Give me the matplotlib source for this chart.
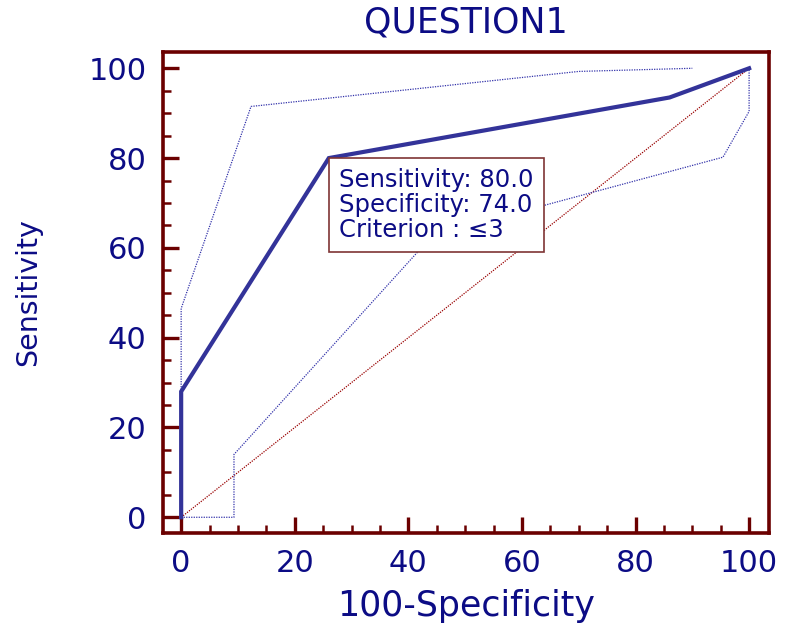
import matplotlib
matplotlib.use("Agg")
import matplotlib.pyplot as plt
from matplotlib.ticker import MultipleLocator

# ROC curve points (100-Specificity, Sensitivity)
roc_x = [0, 0, 26, 86, 100]
roc_y = [0, 28, 80, 93.5, 100]

# confidence bounds (dotted)
upper_x = [0, 0, 12.3, 70, 90]
upper_y = [0, 46.5, 91.5, 99.3, 100]
lower_x = [0, 9.3, 9.3, 44.3, 64.6, 95.4, 100, 100]
lower_y = [0, 0, 14, 62.8, 69.7, 80.2, 90.4, 100]

# reference diagonal
diag = [0, 100]

title = "QUESTION1"
box_lines = ["Sensitivity: 80.0", "Specificity: 74.0", "Criterion : \u22643"]
box_point = (26, 80)

navy = "#0c0c85"
dark_red = "#6b0000"
roc_blue = "#333399"

plt.rcParams['font.family'] = ['DejaVu Sans']

fig = plt.figure(figsize=(7.87, 6.28), dpi=100)
ax = fig.add_axes([0.2071, 0.152, 0.770, 0.765])

ax.plot(diag, diag, linestyle=(0, (1, 1)), color="#990000", lw=0.9, zorder=2)
ax.plot(upper_x, upper_y, linestyle=(0, (1, 1)), color="#3333aa", lw=0.9, zorder=2)
ax.plot(lower_x, lower_y, linestyle=(0, (1, 1)), color="#3333aa", lw=0.9, zorder=2)
ax.plot(roc_x, roc_y, color=roc_blue, lw=3.0, zorder=3, solid_joinstyle='miter')

# criterion box, top-left corner on the chosen point
ax.annotate("\n".join(box_lines), xy=box_point, xytext=(7.5, -7),
            textcoords="offset points", ha="left", va="top",
            fontsize=17.5, color=navy, linespacing=1.05, zorder=5,
            bbox=dict(boxstyle="square,pad=0.42", fc="white",
                      ec="#7f3535", lw=1.2))

ax.set_xlim(-3.2, 103.5)
ax.set_ylim(-3.4, 103.6)

ax.xaxis.set_major_locator(MultipleLocator(20))
ax.xaxis.set_minor_locator(MultipleLocator(5))
ax.yaxis.set_major_locator(MultipleLocator(20))
ax.yaxis.set_minor_locator(MultipleLocator(5))

for s in ax.spines.values():
    s.set_color(dark_red)
    s.set_linewidth(2.6)

ax.tick_params(which="major", direction="in", length=11.5, width=2.4,
               color=dark_red, labelsize=22, labelcolor=navy, pad=12)
ax.tick_params(which="minor", direction="in", length=6, width=1.8,
               color=dark_red)
ax.tick_params(top=False, right=False, which="both")

ax.set_xlabel("100-Specificity", fontsize=25, color=navy, labelpad=8)
ax.set_ylabel("Sensitivity", fontsize=20.5, color=navy)
ax.yaxis.set_label_coords(-0.20, 0.5)
ax.set_title(title, fontsize=25, color=navy, pad=14)

fig.savefig("out.png", dpi=100)
